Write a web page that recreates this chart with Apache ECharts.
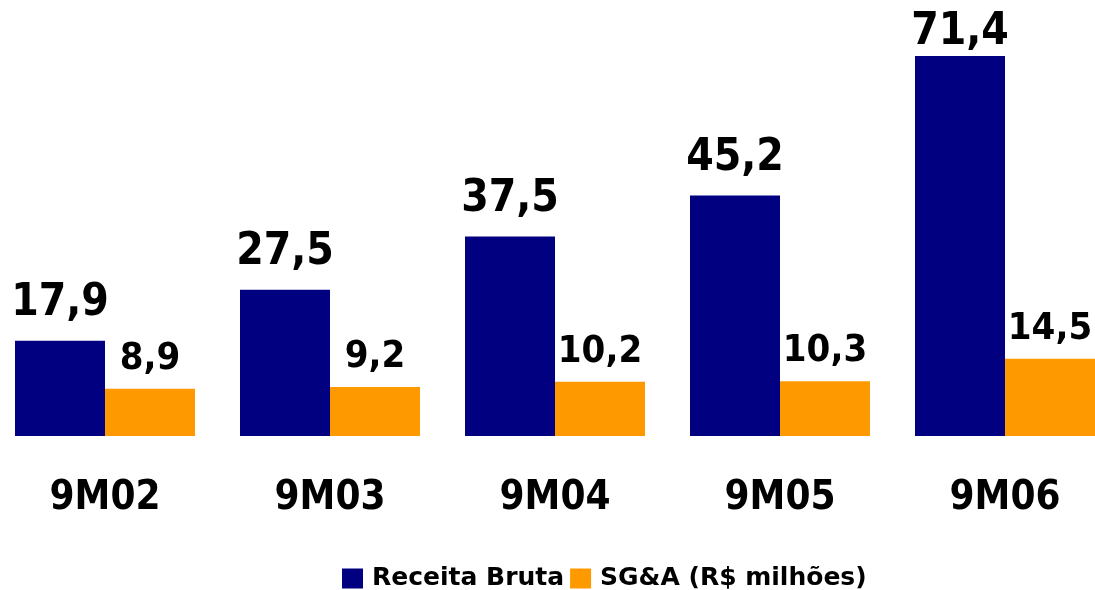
<!DOCTYPE html>
<html style="height: 100%;">
<head>
<meta charset="utf-8">
<title>Receita Bruta x SG&A</title>
<script type="text/javascript" src="https://cdn.jsdelivr.net/npm/echarts@6/dist/echarts.min.js"></script>
</head>
<body style="height: 100%; margin: 0; background: #fff; overflow: hidden; position: relative;">
<div id="container" style="position: absolute; left: -8px; top: 0; width: 1126px; height: 590px;"></div>
<script type="text/javascript">
var periodos = ['9M02', '9M03', '9M04', '9M05', '9M06'];
var receitaBruta = [17.9, 27.5, 37.5, 45.2, 71.4];
var sga = [8.9, 9.2, 10.2, 10.3, 14.5];

var dom = document.getElementById('container');
var myChart = echarts.init(dom);

// rótulo com vírgula decimal
function virgula(p) {
    return p.value.toFixed(1).replace('.', ',');
}

var fonte = '"DejaVu Sans Condensed", "DejaVu Sans", sans-serif';

// a barra mais alta encosta no topo: rótulo mais perto dela
var maior = Math.max.apply(null, receitaBruta);
var dadosReceita = receitaBruta.map(function (v) {
    return v === maior ? { value: v, label: { distance: 1 } } : v;
});

var option = {
    animation: false,
    grid: { left: 0.5, width: 1125, top: 56, height: 380 },
    legend: {
        top: 561,
        left: 345,
        itemWidth: 21,
        itemHeight: 20,
        itemGap: 6,
        icon: 'rect',
        textStyle: { fontFamily: '"DejaVu Sans", sans-serif', fontWeight: 'bold', fontSize: 25, color: '#000', padding: [0, 0, 0, 4] },
        data: ['Receita Bruta', 'SG&A (R$ milhões)']
    },
    xAxis: {
        type: 'category',
        data: periodos,
        axisLine: { show: false },
        axisTick: { show: false },
        axisLabel: {
            margin: 43,
            fontFamily: fonte, fontWeight: 'bold', fontSize: 40, color: '#000'
        }
    },
    yAxis: {
        type: 'value',
        min: 0,
        max: 71.4,
        show: false,
        splitLine: { show: false }
    },
    series: [
        {
            name: 'Receita Bruta',
            type: 'bar',
            data: dadosReceita,
            barWidth: 90,
            barGap: '0%',
            itemStyle: { color: '#000080' },
            label: {
                show: true, position: 'top', distance: 15,
                formatter: virgula,
                fontFamily: fonte, fontWeight: 'bold', fontSize: 44, color: '#000'
            }
        },
        {
            name: 'SG&A (R$ milhões)',
            type: 'bar',
            data: sga,
            barWidth: 90,
            itemStyle: { color: '#FF9900' },
            label: {
                show: true, position: 'top', distance: 11,
                formatter: virgula,
                fontFamily: fonte, fontWeight: 'bold', fontSize: 38, color: '#000'
            }
        }
    ]
};
myChart.setOption(option);
</script>
</body>
</html>
